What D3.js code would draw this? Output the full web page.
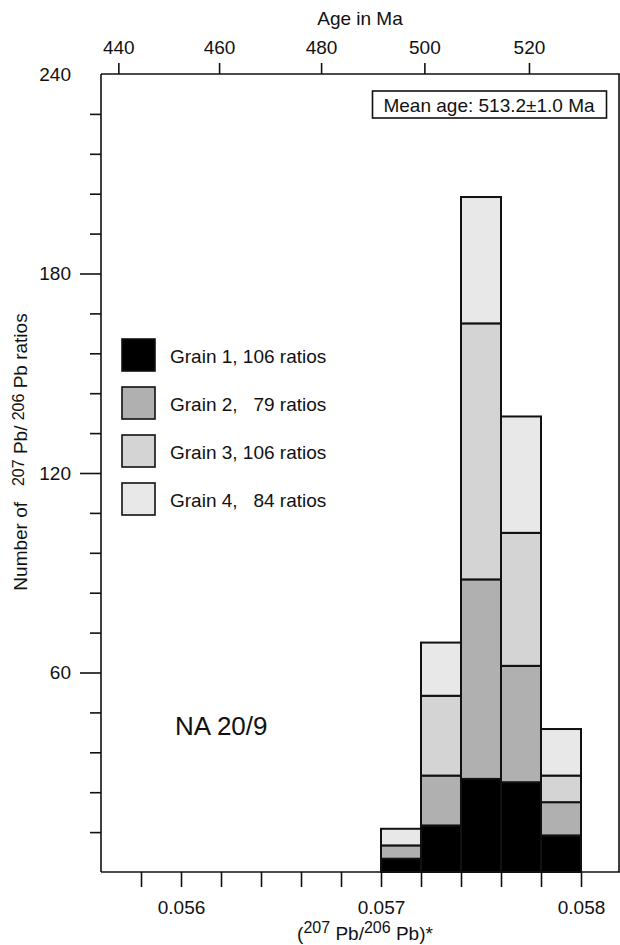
<!DOCTYPE html>
<html>
<head>
<meta charset="utf-8">
<script src="https://cdn.jsdelivr.net/npm/d3@7"></script>
<style>
  body { margin: 0; background: #fff; }
  svg { display: block; }
  text { font-family: "Liberation Sans", Arial, sans-serif; fill: #111; }
</style>
</head>
<body>
<svg id="chart" width="620" height="945"></svg>
<script>
// histogram bins of 207Pb/206Pb ratio (left edges, width 0.0002)
const binStarts = [0.0570, 0.0572, 0.0574, 0.0576, 0.0578];
const binWidth = 0.0002;
// counts per grain
const grain1 = [4, 14, 28, 27, 11];
const grain2 = [4, 15, 60, 35, 10];
const grain3 = [0, 24, 77, 40, 8];
const grain4 = [5, 16, 38, 35, 14];

const grainKeys = ['g1', 'g2', 'g3', 'g4'];
const grainColors = ['#000000', '#b0b0b0', '#d4d4d4', '#e8e8e8'];
const legendLabels = ['Grain 1, 106 ratios', 'Grain 2,   79 ratios', 'Grain 3, 106 ratios', 'Grain 4,   84 ratios'];

const ageTicks = [440, 460, 480, 500, 520];
const ratioLabels = [0.056, 0.057, 0.058];

const svg = d3.select('#chart');
const plotLeft = 101, plotRight = 619, plotTop = 74, plotBottom = 872;

const x = d3.scaleLinear().domain([0.0556, 0.0582]).range([101, 621]);
const y = d3.scaleLinear().domain([0, 240]).range([plotBottom, plotTop]);

// 207Pb/206Pb ratio for an age in Ma (radiogenic)
const l238 = 1.55125e-10, l235 = 9.8485e-10;
const ratioFromAge = function (t) {
    const yrs = t * 1e6;
    return (Math.exp(l235 * yrs) - 1) / (Math.exp(l238 * yrs) - 1) / 137.88;
};

// stacked bars
const table = binStarts.map((b, i) => ({b: b, g1: grain1[i], g2: grain2[i], g3: grain3[i], g4: grain4[i]}));
const stacked = d3.stack().keys(grainKeys)(table);

const barsLayer = svg.append('g').attr('class', 'bars');
stacked.forEach((layer, k) => {
    barsLayer.selectAll(null)
        .data(layer)
        .join('rect')
        .attr('x', d => x(d.data.b))
        .attr('width', d => x(d.data.b + binWidth) - x(d.data.b))
        .attr('y', d => y(d[1]))
        .attr('height', d => y(d[0]) - y(d[1]))
        .attr('fill', grainColors[k])
        .attr('stroke', '#111')
        .attr('stroke-width', 2);
});

// frame
const frame = svg.append('g').attr('stroke', '#111').attr('stroke-width', 1.6).attr('fill', 'none');
frame.append('line').attr('x1', plotLeft).attr('x2', 620).attr('y1', plotTop).attr('y2', plotTop);
frame.append('line').attr('x1', plotLeft).attr('x2', 620).attr('y1', plotBottom).attr('y2', plotBottom);
frame.append('line').attr('x1', plotLeft).attr('x2', plotLeft).attr('y1', plotTop).attr('y2', plotBottom);
frame.append('line').attr('x1', plotRight).attr('x2', plotRight).attr('y1', plotTop).attr('y2', plotBottom);

// left axis: minor ticks every 12, major every 60
const minorY = d3.range(12, 240, 12).filter(v => v % 60 !== 0);
svg.append('g')
    .attr('transform', `translate(${plotLeft},0)`)
    .call(d3.axisLeft(y).tickValues(minorY).tickSize(11).tickFormat(''))
    .call(g => g.select('.domain').remove())
    .call(g => g.selectAll('line').attr('stroke', '#111').attr('stroke-width', 1.6));

svg.append('g')
    .attr('transform', `translate(${plotLeft},0)`)
    .call(d3.axisLeft(y).tickValues([60, 120, 180, 240]).tickSize(21).tickPadding(9))
    .call(g => g.select('.domain').remove())
    .call(g => g.selectAll('line').attr('stroke', '#111').attr('stroke-width', 1.6))
    .call(g => g.selectAll('.tick').filter(d => d === 240).select('line').remove())
    .call(g => g.selectAll('text').attr('font-size', 19).attr('font-family', '"Liberation Sans", Arial, sans-serif').attr('fill', '#111'));

// bottom axis
const ratioTicks = d3.range(0, 12).map(i => 0.0558 + i * 0.0002);
svg.append('g')
    .attr('transform', `translate(0,${plotBottom})`)
    .call(d3.axisBottom(x).tickValues(ratioTicks).tickSize(15).tickPadding(14)
        .tickFormat(d => ratioLabels.some(r => Math.abs(r - d) < 1e-7) ? d3.format('.3f')(d) : ''))
    .call(g => g.select('.domain').remove())
    .call(g => g.selectAll('line').attr('stroke', '#111').attr('stroke-width', 1.6))
    .call(g => g.selectAll('text').attr('font-size', 19).attr('font-family', '"Liberation Sans", Arial, sans-serif').attr('fill', '#111'));

// top axis in age
const topAxis = svg.append('g');
topAxis.selectAll('line')
    .data(ageTicks)
    .join('line')
    .attr('x1', d => x(ratioFromAge(d)))
    .attr('x2', d => x(ratioFromAge(d)))
    .attr('y1', plotTop)
    .attr('y2', plotTop - 11)
    .attr('stroke', '#111')
    .attr('stroke-width', 1.6);
topAxis.selectAll('text')
    .data(ageTicks)
    .join('text')
    .attr('x', d => x(ratioFromAge(d)))
    .attr('y', 54)
    .attr('text-anchor', 'middle')
    .attr('font-size', 19)
    .text(d => d);

svg.append('text')
    .attr('x', 360).attr('y', 25)
    .attr('text-anchor', 'middle')
    .attr('font-size', 19)
    .text('Age in Ma');

// bottom title
const xTitle = svg.append('text')
    .attr('x', 365).attr('y', 940)
    .attr('text-anchor', 'middle')
    .attr('font-size', 19)
    .style('white-space', 'pre');
xTitle.append('tspan').text('(');
xTitle.append('tspan').attr('font-size', 16).attr('dy', -7).text('207');
xTitle.append('tspan').attr('dy', 7).text(' Pb/');
xTitle.append('tspan').attr('font-size', 16).attr('dy', -7).text('206');
xTitle.append('tspan').attr('dy', 7).text(' Pb)*');

// left title
const yTitle = svg.append('text')
    .attr('transform', 'translate(27,452) rotate(-90)')
    .attr('text-anchor', 'middle')
    .attr('font-size', 19)
    .style('white-space', 'pre');
yTitle.append('tspan').text('Number of   ');
yTitle.append('tspan').attr('font-size', 16).attr('dy', -3).text('207');
yTitle.append('tspan').attr('dy', 3).text(' Pb/ ');
yTitle.append('tspan').attr('font-size', 16).attr('dy', -3).text('206');
yTitle.append('tspan').attr('dy', 3).text(' Pb ratios');

// legend
const legend = svg.append('g');
legendLabels.forEach((label, i) => {
    const ly = 339 + i * 48;
    legend.append('rect')
        .attr('x', 122).attr('y', ly)
        .attr('width', 33).attr('height', 32)
        .attr('fill', grainColors[i])
        .attr('stroke', '#111').attr('stroke-width', 1.6);
    legend.append('text')
        .attr('x', 170).attr('y', ly + 24)
        .attr('font-size', 19)
        .style('white-space', 'pre')
        .text(label);
});

// mean age box
svg.append('rect')
    .attr('x', 372.5).attr('y', 91)
    .attr('width', 234).attr('height', 27)
    .attr('fill', '#fff')
    .attr('stroke', '#111').attr('stroke-width', 1.6);
svg.append('text')
    .attr('x', 489).attr('y', 112)
    .attr('text-anchor', 'middle')
    .attr('font-size', 19)
    .text('Mean age: 513.2\u00b11.0 Ma');

// sample name
svg.append('text')
    .attr('x', 175).attr('y', 735)
    .attr('font-size', 26)
    .text('NA 20/9');
</script>
</body>
</html>
